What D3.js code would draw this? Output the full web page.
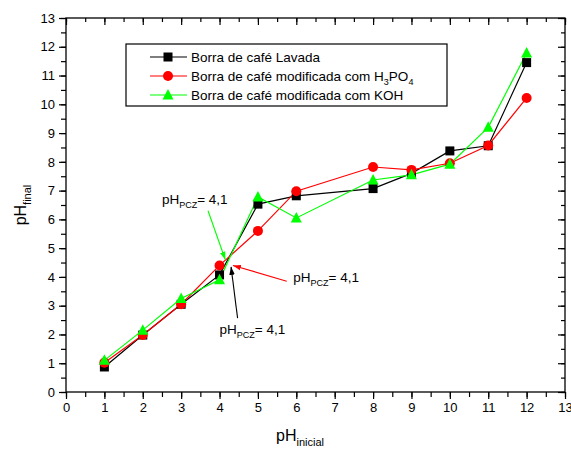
<!DOCTYPE html>
<html><head><meta charset="utf-8">
<script src="https://cdn.jsdelivr.net/npm/d3@7"></script>
<style>body{margin:0;background:#fff}svg{display:block;font-family:Arial,"Liberation Sans",sans-serif}</style>
</head><body><svg id="c" width="571" height="450"></svg>
<script>
const phInicial = [1,2,3,4,5,6,8,9,10,11,12];
const lavada = [0.87,1.98,3.05,4.07,6.53,6.82,7.07,7.6,8.38,8.56,11.45];
const h3po4 = [1.02,1.98,3.05,4.4,5.6,6.98,7.82,7.72,7.95,8.57,10.22];
const koh = [1.1,2.15,3.25,3.9,6.78,6.05,7.37,7.55,7.92,9.2,11.78];
const xTicks = d3.range(0,14);
const yTicks = d3.range(0,14);
const seriesNames = ["Borra de café Lavada","Borra de café modificada com H3PO4","Borra de café modificada com KOH"];

const svg = d3.select("#c");
const W=571,H=450;
const x0=66,x1=565,y0=392,y1=18;
const x = d3.scaleLinear().domain([0,13]).range([x0,x1]);
const y = d3.scaleLinear().domain([0,13]).range([y0,y1]);

// frame
svg.append("rect").attr("x",x0).attr("y",y1).attr("width",x1-x0).attr("height",y0-y1)
  .attr("fill","none").attr("stroke","#000").attr("stroke-width",1.3);

const minor = d3.range(0,13.01,0.5);
function styleAxis(g){g.select(".domain").remove();g.selectAll("line").attr("stroke","#000").attr("stroke-width",1.2);g.selectAll("text").attr("font-size",13).attr("fill","#000");}
// bottom
svg.append("g").attr("transform",`translate(0,${y0})`).call(d3.axisBottom(x).tickValues(minor).tickSize(5).tickFormat("")).call(styleAxis);
svg.append("g").attr("transform",`translate(0,${y0})`).call(d3.axisBottom(x).tickValues(xTicks).tickSize(7).tickPadding(4).tickFormat(d3.format("d"))).call(styleAxis);
// left
svg.append("g").attr("transform",`translate(${x0},0)`).call(d3.axisLeft(y).tickValues(minor).tickSize(5).tickFormat("")).call(styleAxis);
svg.append("g").attr("transform",`translate(${x0},0)`).call(d3.axisLeft(y).tickValues(yTicks).tickSize(7).tickPadding(4).tickFormat(d3.format("d"))).call(styleAxis);
// top (inward)
svg.append("g").attr("transform",`translate(0,${y1})`).call(d3.axisBottom(x).tickValues(minor).tickSize(4).tickFormat("")).call(styleAxis);
svg.append("g").attr("transform",`translate(0,${y1})`).call(d3.axisBottom(x).tickValues(xTicks).tickSize(7).tickFormat("")).call(styleAxis);
// right (inward)
svg.append("g").attr("transform",`translate(${x1},0)`).call(d3.axisLeft(y).tickValues(minor).tickSize(4).tickFormat("")).call(styleAxis);
svg.append("g").attr("transform",`translate(${x1},0)`).call(d3.axisLeft(y).tickValues(yTicks).tickSize(7).tickFormat("")).call(styleAxis);

// axis titles
const xt = svg.append("text").attr("x",300).attr("y",441).attr("text-anchor","middle").attr("font-size",16);
xt.append("tspan").text("pH");
xt.append("tspan").attr("font-size",11).attr("dy",5).text("inicial");
const yt = svg.append("text").attr("transform","translate(26,205) rotate(-90)").attr("text-anchor","middle").attr("font-size",16);
yt.append("tspan").text("pH");
yt.append("tspan").attr("font-size",11).attr("dy",5).text("final");

const series = [
 {vals:lavada,color:"#000000",marker:"square"},
 {vals:h3po4,color:"#ff0000",marker:"circle"},
 {vals:koh,color:"#00ff00",marker:"triangle"}
];
const line = d3.line().x(d=>x(d[0])).y(d=>y(d[1]));
function drawMarker(g,type,color,cx,cy){
  if(type==="square") g.append("rect").attr("x",cx-4.5).attr("y",cy-4.5).attr("width",9).attr("height",9).attr("fill",color);
  else if(type==="circle") g.append("circle").attr("cx",cx).attr("cy",cy).attr("r",5).attr("fill",color);
  else g.append("path").attr("d",`M${cx},${cy-6}L${cx+5.5},${cy+4.5}L${cx-5.5},${cy+4.5}Z`).attr("fill",color);
}
series.forEach(s=>{
  const pts = phInicial.map((v,i)=>[v,s.vals[i]]);
  svg.append("path").attr("d",line(pts)).attr("fill","none").attr("stroke",s.color).attr("stroke-width",1.2);
});
series.forEach(s=>{
  const g=svg.append("g");
  phInicial.forEach((v,i)=>drawMarker(g,s.marker,s.color,x(v),y(s.vals[i])));
});

// legend
const lg = svg.append("g");
lg.append("rect").attr("x",126).attr("y",44).attr("width",321).attr("height",62).attr("fill","#fff").attr("stroke","#000").attr("stroke-width",1.2);
series.forEach((s,i)=>{
  const ly = 57+i*19;
  lg.append("line").attr("x1",150).attr("x2",187).attr("y1",ly).attr("y2",ly).attr("stroke",s.color).attr("stroke-width",1.2);
  drawMarker(lg,s.marker,s.color,168,ly);
  const t = lg.append("text").attr("x",191).attr("y",ly+5).attr("font-size",13.5);
  if(i===1){
    t.append("tspan").text("Borra de café modificada com H");
    t.append("tspan").attr("font-size",9).attr("dy",4).text("3");
    t.append("tspan").attr("dy",-4).text("PO");
    t.append("tspan").attr("font-size",9).attr("dy",4).text("4");
  } else t.text(seriesNames[i]);
});

// annotations (positions in data units)
const annotations = [
 {color:"#00ff00", tx:2.5, ty:6.55, ax:[3.7,6.3], ah:[4.15,4.6]},
 {color:"#ff0000", tx:5.92, ty:3.82, ax:[5.75,3.85], ah:[4.35,4.4]},
 {color:"#000000", tx:4.0, ty:2.0, ax:[4.47,2.57], ah:[4.3,4.35]}
];
svg.append("defs").selectAll("marker").data(annotations).join("marker")
  .attr("id",(d,i)=>"ah"+i).attr("viewBox","0 0 10 10").attr("refX",10).attr("refY",5)
  .attr("markerWidth",8).attr("markerHeight",8).attr("markerUnits","userSpaceOnUse").attr("orient","auto")
  .append("path").attr("d","M0,1.5L10,5L0,8.5Z").attr("fill",d=>d.color);
annotations.forEach((a,i)=>{
  svg.append("line").attr("x1",x(a.ax[0])).attr("y1",y(a.ax[1])).attr("x2",x(a.ah[0])).attr("y2",y(a.ah[1]))
    .attr("stroke",a.color).attr("stroke-width",1.1).attr("marker-end",`url(#ah${i})`);
  const t = svg.append("text").attr("x",x(a.tx)).attr("y",y(a.ty)).attr("font-size",13.5).attr("fill","#000");
  t.append("tspan").text("pH");
  t.append("tspan").attr("font-size",9).attr("dy",4).text("PCZ");
  t.append("tspan").attr("dy",-4).text("= 4,1");
});
</script></body></html>
